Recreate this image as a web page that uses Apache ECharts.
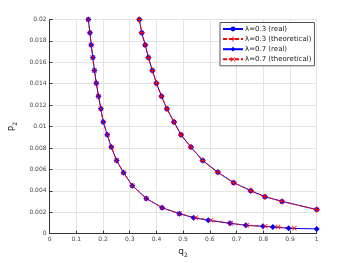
<!DOCTYPE html>
<html><head><meta charset="utf-8">
<script src="https://cdn.jsdelivr.net/npm/echarts@6/dist/echarts.min.js"></script>
<style>html,body{margin:0;padding:0;background:#fff}#c{width:350px;height:263px}</style>
</head><body><div id="c"></div>
<script>
const seriesNames = ['λ=0.3 (real)', 'λ=0.3 (theoretical)', 'λ=0.7 (real)', 'λ=0.7 (theoretical)'];
const xTicks = ['0','0.1','0.2','0.3','0.4','0.5','0.6','0.7','0.8','0.9','1'];
const yTicks = ['0','0.002','0.004','0.006','0.008','0.01','0.012','0.014','0.016','0.018','0.02'];

// λ=0.3 (real and theoretical coincide)
const q03 = [0.336,0.345,0.358,0.370,0.385,0.400,0.419,0.439,0.466,0.492,0.529,0.573,0.630,0.689,0.753,0.806,0.870,1.0];
const p03 = [0.0200,0.01877,0.01762,0.01644,0.01523,0.01405,0.01284,0.01166,0.01042,0.00923,0.00808,0.00683,0.00572,0.00476,0.00401,0.00345,0.00301,0.00224];
const q03t = [0.336,0.345,0.358,0.370,0.385,0.400,0.419,0.439,0.466,0.492,0.529,0.573,0.630,0.689,0.753,0.806,0.870,1.0];
const p03t = [0.0200,0.01877,0.01762,0.01644,0.01523,0.01405,0.01284,0.01166,0.01042,0.00923,0.00808,0.00683,0.00572,0.00476,0.00401,0.00345,0.00301,0.00224];

// λ=0.7
const q07 = [0.145,0.151,0.156,0.162,0.168,0.175,0.183,0.192,0.201,0.216,0.231,0.251,0.277,0.310,0.362,0.421,0.486,0.539,0.594,0.676,0.735,0.799,0.836,0.895,1.0];
const p07 = [0.0200,0.01877,0.01762,0.01644,0.01523,0.01405,0.01284,0.01166,0.01042,0.00923,0.00808,0.00683,0.00569,0.00448,0.00329,0.00242,0.00186,0.00149,0.00124,0.00096,0.00077,0.00068,0.00062,0.00049,0.00044];
const q07t = [0.145,0.151,0.156,0.162,0.168,0.175,0.183,0.192,0.201,0.216,0.231,0.251,0.277,0.310,0.362,0.421,0.486,0.547,0.604,0.678,0.739,0.807,0.855,0.916];
const p07t = [0.0200,0.01877,0.01762,0.01644,0.01523,0.01405,0.01284,0.01166,0.01042,0.00923,0.00808,0.00683,0.00569,0.00448,0.00329,0.00242,0.00186,0.00149,0.00124,0.00096,0.00077,0.00068,0.00062,0.00049];

const zip = (a,b) => a.map((v,i)=>[v,b[i]]);
const PLUS = 'path://M4,0L6,0L6,4L10,4L10,6L6,6L6,10L4,10L4,6L0,6L0,4L4,4Z';
const CROSS = 'path://M1,0L5,4L9,0L10,1L6,5L10,9L9,10L5,6L1,10L0,9L4,5L0,1Z';
const BLUE = '#0000ff', RED = '#ff0000';

const chart = echarts.init(document.getElementById('c'), null, {renderer:'canvas'});
chart.setOption({
  animation:false,
  backgroundColor:'#fff',
  grid:{left:45.7, right:33.3, top:19.5, bottom:29, containLabel:false},
  legend:{
    orient:'vertical', left:220, top:22.5,
    backgroundColor:'#fff', borderColor:'#555', borderWidth:1, borderRadius:0,
    padding:[3,3,3,2], itemGap:3.1, itemWidth:20, itemHeight:6,
    textStyle:{fontSize:7, color:'#222', fontFamily:'DejaVu Sans', padding:[0,0,0,-3]},
    data: seriesNames
  },
  xAxis:{
    type:'value', min:0, max:1, interval:0.1,
    name:'{a|q}{b|2}', nameLocation:'middle', nameGap:10,
    nameTextStyle:{rich:{a:{fontSize:9,color:'#222',fontFamily:'DejaVu Sans'},b:{fontSize:6,color:'#222',padding:[6,0,0,0],fontFamily:'DejaVu Sans'}}},
    axisLine:{show:true, onZero:false, lineStyle:{color:'#333', width:1}},
    axisTick:{inside:true, length:3, lineStyle:{color:'#333'}},
    axisLabel:{fontSize:6, color:'#444', margin:3, fontFamily:'DejaVu Sans', formatter:(v,i)=>xTicks[i]},
    splitLine:{show:true, lineStyle:{color:'#e4e4e4', width:1}}
  },
  yAxis:{
    type:'value', min:0, max:0.02, interval:0.002,
    name:'{a|P}{b|2}', nameLocation:'middle', nameGap:28, nameRotate:90,
    nameTextStyle:{rich:{a:{fontSize:9,color:'#222',fontFamily:'DejaVu Sans'},b:{fontSize:6,color:'#222',padding:[6,0,0,0],fontFamily:'DejaVu Sans'}}},
    axisLine:{show:true, onZero:false, lineStyle:{color:'#333', width:1}},
    axisTick:{inside:true, length:3, lineStyle:{color:'#333'}},
    axisLabel:{fontSize:6, color:'#444', margin:3, fontFamily:'DejaVu Sans', formatter:(v,i)=>yTicks[i]},
    splitLine:{show:true, lineStyle:{color:'#e4e4e4', width:1}}
  },
  series:[
    {name:seriesNames[0], type:'line', data:zip(q03,p03), symbol:'circle', symbolSize:5,
     itemStyle:{color:BLUE}, lineStyle:{color:BLUE, width:1}},
    {name:seriesNames[1], type:'line', data:zip(q03t,p03t), symbol:PLUS, symbolSize:6,
     itemStyle:{color:RED}, lineStyle:{color:RED, width:1, type:[4,2]}},
    {name:seriesNames[2], type:'line', data:zip(q07,p07), symbol:'diamond', symbolSize:6,
     itemStyle:{color:BLUE}, lineStyle:{color:BLUE, width:1}},
    {name:seriesNames[3], type:'line', data:zip(q07t,p07t), symbol:CROSS, symbolSize:5,
     itemStyle:{color:RED}, lineStyle:{color:RED, width:1, type:[4,2]}}
  ]
});
</script></body></html>
